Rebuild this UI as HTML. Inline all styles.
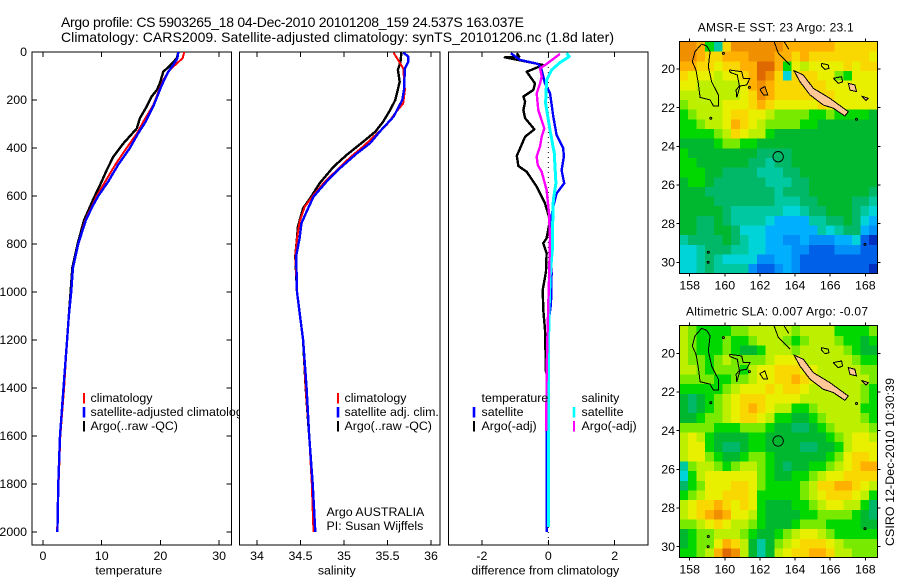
<!DOCTYPE html>
<html>
<head>
<meta charset="utf-8">
<title>Argo profile</title>
<style>
html,body{margin:0;padding:0;background:#fff;}
svg{display:block;}
text{font-family:"Liberation Sans",sans-serif;fill:#000;}
</style>
</head>
<body>
<svg id="chart" xmlns="http://www.w3.org/2000/svg" width="900" height="580" viewBox="0 0 900 580">
<defs>
<clipPath id="clip-map1"><rect x="679.3" y="41.3" width="198" height="232"/></clipPath>
<clipPath id="clip-map2"><rect x="679.3" y="325.7" width="198" height="231.6"/></clipPath>
<clipPath id="clip-legend"><rect x="0" y="380" width="239" height="60"/></clipPath>
</defs>
<rect x="0" y="0" width="900" height="580" fill="#fff"/>
<text x="61" y="27" font-size="14" textLength="463">Argo profile: CS 5903265_18 04-Dec-2010 20101208_159 24.537S 163.037E</text>
<text x="61" y="42" font-size="14" textLength="553">Climatology: CARS2009. Satellite-adjusted climatology: synTS_20101206.nc (1.8d later)</text>
<text transform="translate(894,546) rotate(-90)" font-size="12.4" textLength="168">CSIRO 12-Dec-2010 10:30:39</text>
</svg>
<script>
// ---------- profile depth samples and values ----------
const tempDepthClim = [0,26,54,82,117,158,220,290,339,400,470,540,600,640,700,800,900,1000,1100,1200,1400,1600,1800,2000];
const tempClim = [24.07,23.79,22.5,21.35,20.5,19.8,18.8,17.1,16.0,14.25,12.3,10.6,9.14,8.4,7.2,6.0,5.1,4.8,4.4,4.1,3.6,2.95,2.65,2.4];
const tempDepthSat = [0,26,54,82,124,158,220,290,339,400,470,540,600,640,700,800,900,1000,1100,1200,1400,1600,1800,2000];
const tempSat = [23.05,22.9,22.2,21.35,20.5,19.9,18.9,17.5,16.2,14.8,12.8,11.1,9.4,8.5,7.3,6.0,5.1,4.8,4.4,4.1,3.5,2.9,2.6,2.45];
const tempDepthArgo = [0,26,54,82,131,158,186,228,276,318,381,436,492,556,611,640,700,800,900,1000,1100,1200,1400,1600,1800,2000];
const tempArgo = [23.05,22.8,21.75,20.5,19.9,19.4,18.5,17.65,16.5,16.0,13.7,12.0,10.85,9.7,8.6,8.1,7.0,5.9,5.0,4.7,4.4,4.1,3.5,2.9,2.6,2.45];

const salDepthClim = [3,44,68,158,214,249,304,353,394,439,492,540,596,644,707,776,850,1000,1200,1400,1600,1800,2000];
const salClim = [35.57,35.64,35.68,35.7,35.68,35.6,35.49,35.34,35.22,35.07,34.92,34.78,34.65,34.55,34.49,34.46,34.44,34.46,34.53,34.56,34.6,34.63,34.65];
const salDepthSat = [3,19,40,68,158,200,269,332,380,422,485,540,603,665,714,776,850,1000,1200,1400,1600,1800,2000];
const salSat = [35.68,35.74,35.74,35.7,35.69,35.67,35.57,35.41,35.3,35.15,34.95,34.8,34.65,34.57,34.51,34.49,34.45,34.46,34.53,34.57,34.6,34.64,34.67];
const salDepthArgo = [3,40,75,124,200,242,290,332,374,429,478,547,610,651,728,776,850,1000,1200,1400,1600];
const salArgo = [35.66,35.65,35.62,35.64,35.59,35.53,35.45,35.36,35.22,35.03,34.88,34.72,34.61,34.53,34.47,34.46,34.44,34.46,34.53,34.56,34.6];

const diffTempArgoDepth = [5,19,22,54,82,131,158,186,207,242,276,322,353,433,475,499,561,631,700,776,797,839,915,992,1075,1158,1339];
const diffTempArgo = [-0.95,-0.88,-1.31,-0.15,-0.65,-0.4,-0.45,-0.75,-0.7,-0.75,-0.7,-0.42,-0.7,-0.95,-0.9,-0.65,-0.35,-0.1,0.05,-0.05,-0.15,-0.05,-0.07,-0.17,-0.15,-0.1,-0.07];
const diffTempSatDepth = [5,33,50,75,131,172,269,346,401,436,492,547,589,644,714,778,922,1047,1158,1500,2000];
const diffTempSat = [-1.13,-0.85,-0.3,-0.2,-0.1,0.05,0.15,0.25,0.45,0.47,0.4,0.48,0.25,0.15,0.05,0.05,0.1,0.08,-0.02,-0.04,-0.05];
const diffSalSatDepth = [5,19,44,75,117,214,325,422,547,617,778,825,922,1075,1339,1500,1980];
const diffSalSat = [0.55,0.63,0.35,0.1,-0.05,-0.08,0.05,0.18,0.23,0.15,0.12,0.12,0.06,0.02,0,0,0.01];
const diffSalArgoDepth = [8,50,68,103,131,172,242,318,353,394,436,471,499,575,672,778,950,1158,1339,1580];
const diffSalArgo = [0.35,-0.05,-0.25,-0.2,-0.25,-0.35,-0.3,-0.12,-0.2,-0.25,-0.35,-0.32,-0.2,-0.05,0.02,0.05,0.02,-0.02,-0.05,-0.06];

// ---------- tick labels ----------
const depthTicks = [0,200,400,600,800,1000,1200,1400,1600,1800,2000];
const tempTicks = [0,10,20,30];
const salTicks = [34,34.5,35,35.5,36];
const diffTicks = [-2,0,2];
const lonTicks = [158,160,162,164,166,168];
const latTicks = [20,22,24,26,28,30];

// ---------- map fields (colour level per 0.5 degree cell, north to south) ----------
const colourLevels = ['#0030c0','#0060e8','#0090f8','#00b0ff','#00d4d8','#00c8a0','#00b868','#00b830','#00d800','#78ea00','#bcf000','#e8f000','#f8d800','#ffb000','#f09000','#e06800'];
const sstField = [
[14,14,13,8,5,12,14,14,14,14,14,14,13,13,13,13,13,13,12,12,12,12,12],
[14,14,13,12,12,13,13,13,14,14,14,13,13,12,13,12,12,12,12,12,12,12,11],
[13,13,12,12,11,12,12,13,13,15,15,13,8,11,10,11,11,11,11,12,11,12,12],
[12,11,11,11,10,11,11,12,13,15,14,12,4,12,12,12,11,11,9,8,11,11,11],
[11,11,10,10,10,10,10,11,13,14,13,12,12,12,12,12,12,11,11,11,11,11,11],
[10,10,10,10,10,10,10,11,12,14,13,12,12,12,12,12,12,12,11,11,11,11,11],
[9,10,10,10,10,11,11,11,12,13,12,11,11,11,11,11,12,11,11,11,11,11,11],
[8,9,10,10,10,11,12,12,11,11,10,9,9,9,9,8,8,9,8,8,8,8,7],
[8,8,9,10,10,11,13,12,11,10,9,9,9,9,8,8,7,7,7,7,7,7,7],
[8,8,8,8,9,10,12,11,10,10,8,7,7,7,7,7,7,7,7,7,7,7,7],
[7,7,7,7,8,9,9,8,8,7,7,7,7,7,7,7,7,7,7,7,7,7,7],
[8,7,7,7,7,7,7,7,7,6,6,6,6,7,7,7,7,7,7,7,7,7,7],
[8,8,7,7,7,7,7,7,6,6,5,6,6,7,7,7,7,7,7,7,7,7,7],
[8,8,8,7,7,6,6,6,6,5,5,5,6,6,7,7,7,7,7,7,7,7,7],
[7,8,8,7,6,6,6,6,6,6,5,5,5,6,6,7,7,7,7,7,7,7,7],
[7,7,7,6,6,6,6,6,6,6,6,5,6,6,6,7,7,7,7,7,7,7,6],
[7,7,7,7,6,6,6,6,6,6,6,5,5,5,6,6,7,7,7,7,6,6,5],
[7,7,7,7,7,6,5,5,5,5,5,5,4,4,5,6,6,7,7,7,6,5,4],
[7,7,6,6,7,6,5,5,5,5,4,3,3,3,3,5,5,6,6,7,6,4,3],
[7,7,6,6,7,7,6,4,4,4,3,3,3,3,3,3,5,4,5,6,6,3,2],
[5,6,6,6,6,7,6,5,4,4,3,3,2,2,3,2,2,2,3,3,4,1,0],
[4,4,5,6,6,6,5,5,4,4,3,3,3,2,2,1,1,1,2,2,2,1,1],
[4,4,5,6,5,4,4,4,4,2,2,3,3,2,1,1,1,1,1,1,1,1,1],
[4,4,5,6,5,5,5,5,2,1,1,2,3,2,1,1,1,1,1,1,1,1,0]
];
const slaField = [
[10,9,8,8,8,8,9,9,10,10,10,10,10,9,10,10,10,10,8,8,8,8,9],
[10,9,8,8,8,9,8,8,9,10,10,10,9,8,9,10,10,10,9,8,8,7,8],
[10,9,8,8,8,9,8,7,7,8,10,10,10,9,10,10,10,10,10,9,8,7,7],
[10,9,9,8,9,10,9,9,9,9,10,11,11,11,10,10,10,10,10,10,9,8,8],
[10,10,9,8,9,9,9,8,10,11,11,12,12,12,11,11,10,10,10,10,10,9,9],
[9,9,9,9,8,8,9,9,10,11,11,12,12,13,12,11,10,10,10,10,10,10,9],
[8,8,8,8,8,9,10,11,11,11,12,11,12,12,11,10,10,10,10,10,10,9,8],
[7,6,7,8,9,10,11,12,12,12,11,11,11,11,10,10,10,10,10,10,10,9,8],
[7,6,7,8,9,10,11,12,13,12,11,10,10,8,8,9,10,10,10,10,10,8,8],
[7,7,8,9,9,10,11,12,12,11,10,8,8,7,7,8,9,10,10,10,10,9,8],
[9,9,9,9,8,8,8,9,9,9,8,7,7,6,6,7,8,9,10,10,10,10,9],
[10,11,10,8,7,7,7,7,8,8,7,7,7,7,7,7,7,8,9,10,11,11,10],
[10,11,11,8,7,6,6,7,8,8,7,7,7,7,6,6,7,7,8,10,11,11,11],
[10,11,11,9,8,7,7,8,9,9,8,7,7,7,7,7,7,8,9,11,12,12,11],
[5,9,10,10,9,8,9,10,10,9,8,7,6,7,7,8,8,9,10,11,12,13,13],
[4,8,10,11,11,11,11,11,11,9,8,7,7,8,8,9,10,11,11,12,12,12,12],
[6,8,9,11,11,11,12,12,11,9,8,8,8,8,9,10,12,12,13,13,12,11,10],
[8,9,10,11,11,12,12,12,11,8,8,8,8,8,9,10,11,12,12,12,11,10,8],
[10,11,12,12,13,12,11,12,11,8,7,7,7,8,8,9,10,11,11,10,10,8,6],
[10,11,12,13,14,13,11,11,10,8,7,7,7,7,8,8,9,9,9,9,8,7,6],
[9,9,10,11,12,11,10,10,9,8,7,7,7,8,9,9,9,8,8,8,8,7,7],
[7,8,9,9,10,10,10,9,8,7,7,8,9,10,11,11,10,9,8,8,8,8,8],
[7,8,9,9,11,13,12,10,7,5,7,9,10,11,12,12,12,11,10,9,9,9,9],
[8,8,9,10,13,15,14,10,7,5,7,10,11,12,12,13,13,12,10,10,9,9,9]
];
const mapLonStart = 157.41, mapLatStart = 18.6, mapCellDeg = 0.4915, mapCellLatDeg = 0.5;
const floatLon = 163.037, floatLat = 24.537;

// ---------- coastlines (lon, south latitude) ----------
const coastChesterfield = [[158.68,18.71],[158.97,18.81],[159.16,19.1],[159.06,19.88],[159.25,20.66],[159.63,21.34],[159.63,21.91],[159.35,21.91],[159.16,21.6],[158.59,21.47],[158.49,20.74],[158.36,20.05],[158.15,19.62],[158.3,19.1],[158.68,18.71]];
const coastBellona = [[160.26,20.05],[160.96,20.14],[161.05,20.48],[161.43,20.48],[161.24,20.83],[160.87,20.88],[160.68,21.47],[160.64,21.09],[160.83,20.88],[160.71,20.31],[160.3,20.17],[160.26,20.05]];
const coastReefA = [[162.0,21.05],[162.28,20.91],[162.44,21.34],[162.2,21.34],[162.0,21.05]];
const coastEntreLine = [[162.8,18.57],[163.05,19.19],[163.43,19.53],[163.71,19.79]];
const coastEntreLine2 = [[163.37,18.57],[163.64,18.97]];
const coastLoopA = [[165.51,19.71],[165.89,19.79],[165.93,19.97],[165.7,20.02],[165.51,19.84],[165.51,19.71]];
const coastLoopB = [[166.18,20.48],[166.65,20.4],[166.71,20.66],[166.46,20.74],[166.18,20.48]];
const coastSpecks = [[159.2,22.55],[167.5,22.6],[159.06,29.48],[167.98,29.07],[159.92,19.19],[161.4,20.95],[159.05,30.0]];
const landNewCaledonia = [[163.94,20.09],[164.47,20.31],[165.04,21.0],[165.99,21.52],[167.03,22.21],[166.84,22.43],[166.18,22.03],[165.61,21.86],[164.85,21.34],[164.28,20.66],[163.94,20.09]];
const landLifou = [[167.03,20.74],[167.41,20.83],[167.5,21.17],[167.13,21.09],[167.03,20.74]];
const landMare = [[167.79,21.4],[168.17,21.52],[168.04,21.64],[167.79,21.4]];

// ---------- drawing ----------
const NS = 'http://www.w3.org/2000/svg';
const root = document.getElementById('chart');
const labelSize = 12.4;
function make(tag, attrs, parent) {
  const el = document.createElementNS(NS, tag);
  for (const k in attrs) el.setAttribute(k, attrs[k]);
  (parent || root).appendChild(el);
  return el;
}
const depthY = d => 52 + d * 0.24;
const panels = [
  {name:'temperature', l:32, r:231.5, x0:43, sx:5.87, v0:0, ticks:tempTicks, label:'temperature'},
  {name:'salinity', l:239.5, r:440, x0:257, sx:87, v0:34, ticks:salTicks, label:'salinity'},
  {name:'difference', l:448.5, r:648, x0:548.3, sx:33.2, v0:0, ticks:diffTicks, label:'difference from climatology'}
];
const axisTop = 52, axisBottom = 545;

function drawSeries(panel, depths, values, colour, width, seriesName) {
  const pts = values.map((v, i) => (panel.x0 + (v - panel.v0) * panel.sx).toFixed(1) + ',' + depthY(depths[i]).toFixed(1)).join(' ');
  const line = make('polyline', {points: pts, fill: 'none', stroke: colour, 'stroke-width': width, 'stroke-linejoin': 'round', 'shape-rendering': 'crispEdges'});
  
  
}
function drawLegendEntry(barX, textX, y, colour, width, label, entryName) {
  if (colour) {
    const bar = make('rect', {x: barX - width / 2, y: y - 9, width: width, height: 10.5, fill: colour});
    
    
  }
  const t = make('text', {x: textX, y: y, 'font-size': labelSize, 'clip-path': textX < 100 ? 'url(#clip-legend)' : 'none'});
  t.textContent = label;
  
  
}

// Panel frames and axes
panels.forEach(p => {
  const frame = make('rect', {x: p.l, y: axisTop, width: p.r - p.l, height: axisBottom - axisTop, fill: '#fff', stroke: '#000', 'stroke-width': 1, 'shape-rendering': 'crispEdges'});
  
  
  p.ticks.forEach(v => {
    const x = p.x0 + (v - p.v0) * p.sx;
    const tt = make('path', {d: `M${x} ${axisTop}v5M${x} ${axisBottom}v-5`, stroke: '#000', 'stroke-width': 1, fill: 'none', 'shape-rendering': 'crispEdges'});
    
    
    const lab = make('text', {x: x, y: 560, 'font-size': labelSize, 'text-anchor': 'middle'});
    lab.textContent = String(v);
    
    
  });
  const title = make('text', {x: (p.l + p.r) / 2 - 3, y: 574.5, 'font-size': labelSize, 'text-anchor': 'middle'});
  title.textContent = p.label;
  
  
});
depthTicks.forEach(d => {
  const y = depthY(d);
  const tk = make('path', {d: `M32 ${y}h5M231.5 ${y}h-5`, stroke: '#000', 'stroke-width': 1, fill: 'none', 'shape-rendering': 'crispEdges'});
  
  
  const lab = make('text', {x: 27, y: y + 4.2, 'font-size': labelSize, 'text-anchor': 'end'});
  lab.textContent = String(d);
  
  
});

// Temperature panel
drawSeries(panels[0], tempDepthArgo, tempArgo, '#000', 2.4, 'temperature-argo-line');
drawSeries(panels[0], tempDepthClim, tempClim, '#f00', 2, 'temperature-climatology-line');
drawSeries(panels[0], tempDepthSat, tempSat, '#00f', 2.4, 'temperature-satellite-line');
drawLegendEntry(84, 90.5, 402, '#f00', 2, 'climatology', 'legend-climatology');
drawLegendEntry(84, 90.5, 416, '#00f', 2.6, 'satellite-adjusted climatology', 'legend-satellite-adjusted');
drawLegendEntry(84, 90.5, 430, '#000', 2, 'Argo(..raw -QC)', 'legend-argo');

// Salinity panel
drawSeries(panels[1], salDepthArgo, salArgo, '#000', 2.4, 'salinity-argo-line');
drawSeries(panels[1], salDepthClim, salClim, '#f00', 2, 'salinity-climatology-line');
drawSeries(panels[1], salDepthSat, salSat, '#00f', 2.4, 'salinity-satellite-line');
drawLegendEntry(338, 344.5, 402, '#f00', 2, 'climatology', 'legend-sal-climatology');
drawLegendEntry(338, 344.5, 416, '#00f', 2.6, 'satellite adj. clim.', 'legend-sal-satellite');
drawLegendEntry(338, 344.5, 430, '#000', 2, 'Argo(..raw -QC)', 'legend-sal-argo');
const credit1 = make('text', {x: 326.5, y: 516, 'font-size': labelSize});
credit1.textContent = 'Argo AUSTRALIA';


const credit2 = make('text', {x: 326.5, y: 530, 'font-size': labelSize});
credit2.textContent = 'PI: Susan Wijffels';



// Difference panel
const zeroLine = make('line', {x1: panels[2].x0, x2: panels[2].x0, y1: axisTop, y2: axisBottom, stroke: '#000', 'stroke-width': 1, 'stroke-dasharray': '1 4'});


drawSeries(panels[2], diffTempArgoDepth, diffTempArgo, '#000', 2.4, 'difference-temperature-argo-line');
drawSeries(panels[2], diffTempSatDepth, diffTempSat, '#00f', 2.4, 'difference-temperature-satellite-line');
drawSeries(panels[2], diffSalSatDepth, diffSalSat, '#0ff', 3, 'difference-salinity-satellite-line');
drawSeries(panels[2], diffSalArgoDepth, diffSalArgo, '#f0f', 2.4, 'difference-salinity-argo-line');
drawLegendEntry(474, 481.5, 402, null, 0, 'temperature', 'legend-temperature-heading');
drawLegendEntry(474, 481.5, 416, '#00f', 2.6, 'satellite', 'legend-diff-temperature-satellite');
drawLegendEntry(474, 481.5, 430, '#000', 2, 'Argo(-adj)', 'legend-diff-temperature-argo');
drawLegendEntry(574, 581.5, 402, null, 0, 'salinity', 'legend-salinity-heading');
drawLegendEntry(574, 581.5, 416, '#0ff', 2.6, 'satellite', 'legend-diff-salinity-satellite');
drawLegendEntry(574, 581.5, 430, '#f0f', 2, 'Argo(-adj)', 'legend-diff-salinity-argo');

// Maps
function drawMap(m) {
  const lonX = lon => 689.7 + (lon - 158) * 17.56;
  const latY = lat => m.y20 + (lat - 20) * m.sy;
  const group = make('g', {'clip-path': `url(#${m.clip})`});
  
  
  const heat = make('g', {'shape-rendering': 'crispEdges'}, group);
  
  
  m.field.forEach((row, r) => {
    row.forEach((level, c) => {
      const x0 = lonX(mapLonStart + c * mapCellDeg), x1 = lonX(mapLonStart + (c + 1) * mapCellDeg);
      const y0 = latY(mapLatStart + r * mapCellLatDeg), y1 = latY(mapLatStart + (r + 1) * mapCellLatDeg);
      const cell = make('rect', {x: x0.toFixed(2), y: y0.toFixed(2), width: (x1 - x0 + 0.6).toFixed(2), height: (y1 - y0 + 0.6).toFixed(2), fill: colourLevels[Math.max(0, Math.min(colourLevels.length - 1, Math.round(level)))]}, heat);
      
      
    });
  });
  const toPts = arr => arr.map(p => lonX(p[0]).toFixed(1) + ',' + latY(p[1]).toFixed(1)).join(' ');
  [coastChesterfield, coastBellona, coastReefA, coastEntreLine, coastEntreLine2, coastLoopA, coastLoopB].forEach(arr => {
    const reef = make('polyline', {points: toPts(arr), fill: 'none', stroke: '#000', 'stroke-width': 1, 'shape-rendering': 'crispEdges'}, group);
    
    
  });
  [landNewCaledonia, landLifou, landMare].forEach(arr => {
    const land = make('polygon', {points: toPts(arr), fill: '#ffc896', stroke: '#000', 'stroke-width': 1, 'shape-rendering': 'crispEdges'}, group);
    
    
  });
  coastSpecks.forEach(p => {
    const speck = make('circle', {cx: lonX(p[0]), cy: latY(p[1]), r: 1, fill: 'none', stroke: '#000', 'stroke-width': 1}, group);
    
    
  });
  const marker = make('circle', {cx: lonX(floatLon), cy: latY(floatLat), r: 5.2, fill: 'none', stroke: '#000', 'stroke-width': 0.9}, group);
  
  
  const frame = make('rect', {x: 679.3, y: m.top, width: 198, height: m.bottom - m.top, fill: 'none', stroke: '#000', 'stroke-width': 1, 'shape-rendering': 'crispEdges'});
  
  
  lonTicks.forEach(lon => {
    const x = lonX(lon);
    const tk = make('path', {d: `M${x} ${m.top}v-3M${x} ${m.bottom}v3`, stroke: '#000', fill: 'none', 'shape-rendering': 'crispEdges'});
    
    
    const lab = make('text', {x: x, y: m.bottom + 16, 'font-size': labelSize, 'text-anchor': 'middle'});
    lab.textContent = String(lon);
    
    
  });
  latTicks.forEach(lat => {
    const y = latY(lat);
    const tk = make('path', {d: `M679.3 ${y}h-3M877.3 ${y}h3`, stroke: '#000', fill: 'none', 'shape-rendering': 'crispEdges'});
    
    
    const lab = make('text', {x: 675, y: y + 4.2, 'font-size': labelSize, 'text-anchor': 'end'});
    lab.textContent = String(lat);
    
    
  });
  const title = make('text', {x: m.titleX, y: m.titleY, 'font-size': 12, textLength: m.titleW});
  title.textContent = m.title;
  
  
}
drawMap({name: 'sst', field: sstField, clip: 'clip-map1', top: 41.3, bottom: 273.3, y20: 69, sy: 19.33, title: 'AMSR-E SST: 23 Argo: 23.1', titleX: 697.7, titleY: 31.5, titleW: 156});
drawMap({name: 'sla', field: slaField, clip: 'clip-map2', top: 325.7, bottom: 557.3, y20: 353.3, sy: 19.33, title: 'Altimetric SLA: 0.007 Argo: -0.07', titleX: 686, titleY: 315.7, titleW: 182});
</script>
</body>
</html>
